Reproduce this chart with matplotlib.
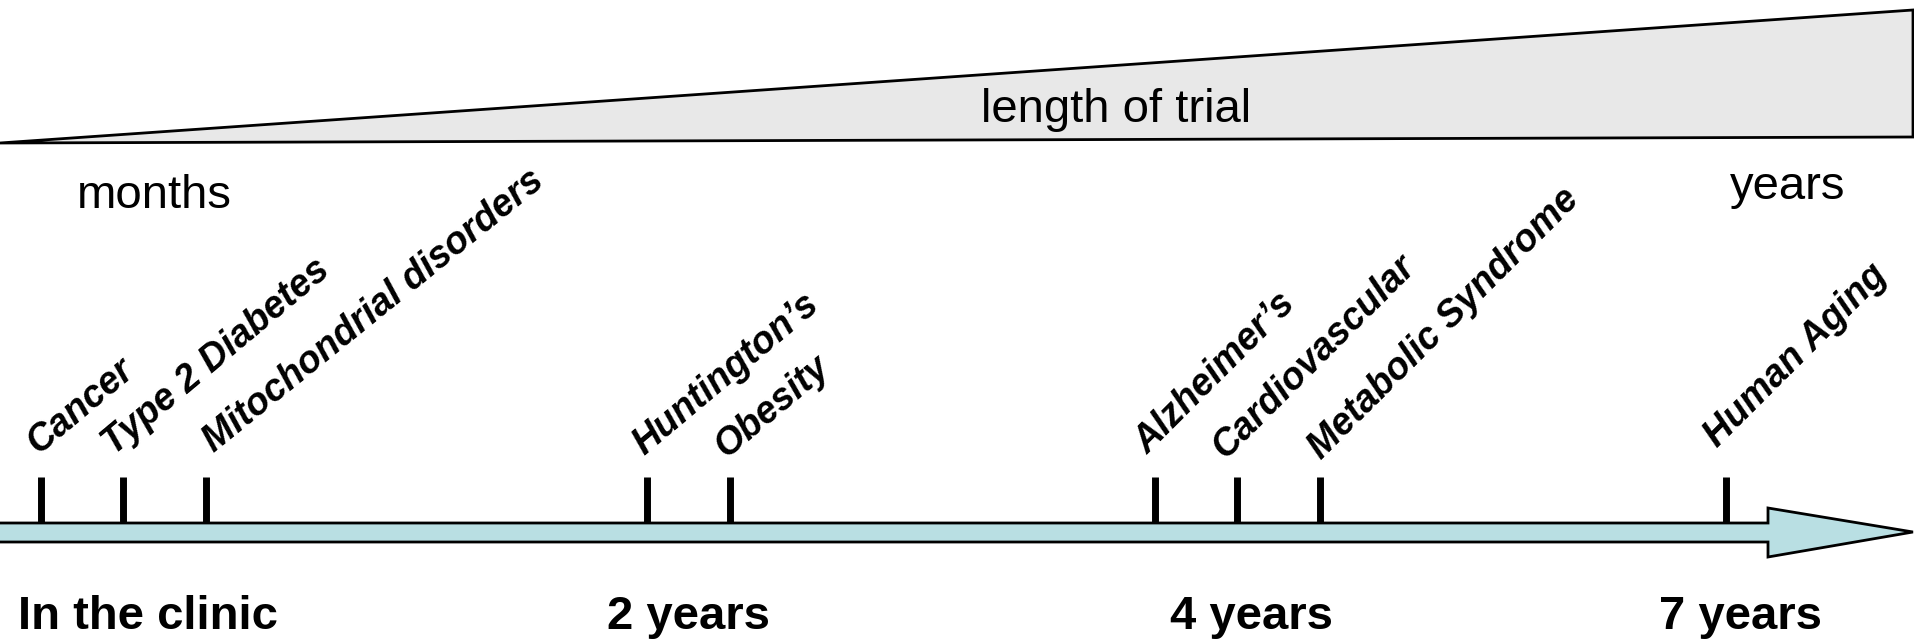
import matplotlib.pyplot as plt
from matplotlib.patches import Polygon

# Diseases along the timeline and where they sit on it (pixel-like timeline units)
diseases = ["Cancer", "Type 2 Diabetes", "Mitochondrial disorders",
            "Huntington\u2019s", "Obesity",
            "Alzheimer\u2019s", "Cardiovascular", "Metabolic Syndrome",
            "Human Aging"]
disease_pos = [41, 123, 206, 647, 730, 1155, 1237, 1320, 1726]

milestones = ["In the clinic", "2 years", "4 years", "7 years"]
milestone_pos = [148, 689, 1252, 1741]

# hand placement of each rotated label relative to its tick (dx, y in px, angle)
label_layout = [(-3, 455, 40), (-9, 456, 40), (8, 453, 39), (-3, 456, 40), (-4, 459, 40),
                (-7, 455, 45), (-12, 460, 45), (1, 460, 45), (-9, 448, 45)]

W, H = 1915, 640

plt.rcParams['font.family'] = ['Liberation Sans', 'DejaVu Sans']

fig = plt.figure(figsize=(W / 100, H / 100), dpi=100)
ax = fig.add_axes([0, 0, 1, 1])
ax.set_xlim(0, W)
ax.set_ylim(H, 0)
ax.axis('off')

# wedge for "length of trial"
wedge = Polygon([(0, 143), (1913, 10), (1913, 137)], closed=True,
                facecolor='#e8e8e8', edgecolor='black', lw=2, joinstyle='miter')
ax.add_patch(wedge)
ax.text(1116, 110, "length of trial", fontsize=34, ha='center', va='center')
ax.text(77, 208, "months", fontsize=34, ha='left', va='baseline')
ax.text(1788, 199, "years", fontsize=34, ha='center', va='baseline')

# timeline arrow
arrow = Polygon([(-5, 523), (1768, 523), (1768, 508), (1913, 532),
                 (1768, 557), (1768, 542), (-5, 542)], closed=True,
                facecolor='#b9dfe3', edgecolor='black', lw=2, joinstyle='miter')
ax.add_patch(arrow)

# ticks and disease labels
for name, x, (dx, y, rot) in zip(diseases, disease_pos, label_layout):
    ax.plot([x, x], [477, 523], color='black', lw=5, solid_capstyle='butt', zorder=3)
    ax.text(x + dx, y, name, fontsize=27, fontweight='bold', fontstyle='italic',
            rotation=rot, rotation_mode='anchor', ha='left', va='baseline')

for name, x in zip(milestones, milestone_pos):
    ax.text(x, 629, name, fontsize=34, fontweight='bold', ha='center', va='baseline')

fig.savefig("out.png", dpi=100)
